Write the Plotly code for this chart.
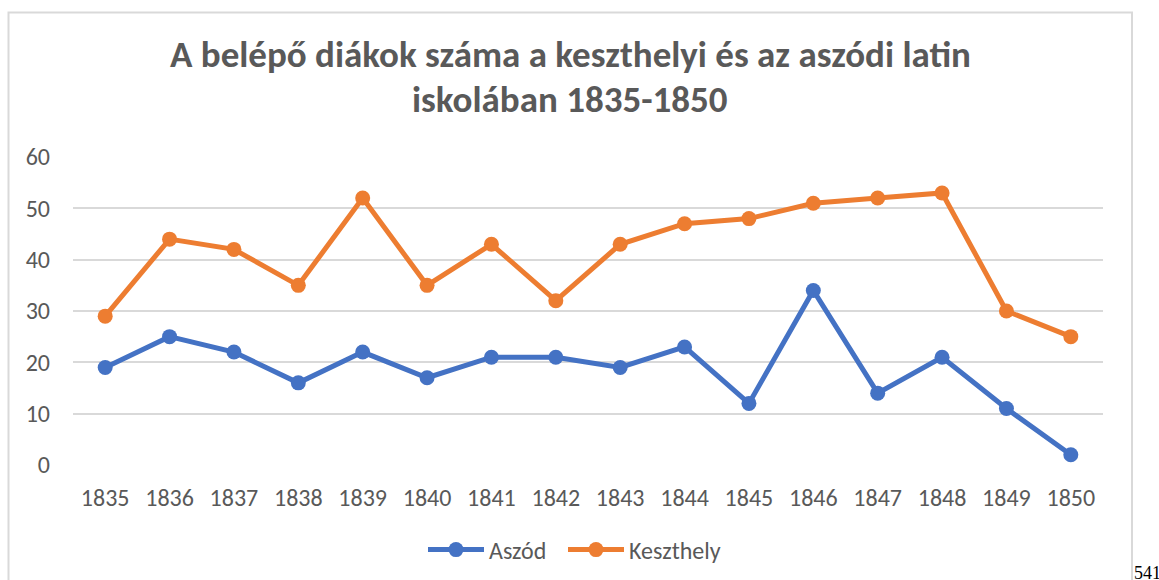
import plotly.graph_objects as go

years = ["1835", "1836", "1837", "1838", "1839", "1840", "1841", "1842",
         "1843", "1844", "1845", "1846", "1847", "1848", "1849", "1850"]
aszod = [19, 25, 22, 16, 22, 17, 21, 21, 19, 23, 12, 34, 14, 21, 11, 2]
keszthely = [29, 44, 42, 35, 52, 35, 43, 32, 43, 47, 48, 51, 52, 53, 30, 25]
y_ticks = [0, 10, 20, 30, 40, 50, 60]

title_line1 = "A belépő diákok száma a keszthelyi és az aszódi latin"
title_line2 = "iskolában 1835-1850"

W, H = 1159, 580
L, R, T, B = 73, 1103, 157, 465
FONT = "Carlito, Calibri, Lato, sans-serif"

def px(x):
    return (x - L) / (R - L)

def py(y):
    return (B - y) / (B - T)

fig = go.Figure()
fig.add_trace(go.Scatter(x=years, y=aszod, name="Aszód", mode="lines+markers",
                         line=dict(color="#4472C4", width=5),
                         marker=dict(size=15, color="#4472C4"),
                         legendwidth=69))
fig.add_trace(go.Scatter(x=years, y=keszthely, name="Keszthely", mode="lines+markers",
                         line=dict(color="#ED7D31", width=5),
                         marker=dict(size=15, color="#ED7D31")))

fig.update_layout(
    width=W, height=H,
    margin=dict(l=L, r=W - R, t=T, b=H - B, autoexpand=False),
    paper_bgcolor="white", plot_bgcolor="white",
    font=dict(family=FONT, color="#595959"),
    showlegend=True,
    legend=dict(orientation="h", x=px(423), xanchor="left", y=py(550), yanchor="middle",
                font=dict(size=24, color="#595959", family=FONT), itemwidth=56,
                traceorder="normal"),
    xaxis=dict(type="category", showgrid=False, zeroline=False, showline=False,
               ticks="", tickfont=dict(size=24, color="#595959"),
               ticklabelstandoff=16, range=[-0.5, 15.5]),
    yaxis=dict(range=[0, 60], tickvals=y_ticks, showgrid=True, gridcolor="#d9d9d9",
               gridwidth=1.5, zeroline=False, showline=False, ticks="",
               tickfont=dict(size=24, color="#595959"), ticklabelstandoff=22),
)

for txt, yc in [(title_line1, 55), (title_line2, 99)]:
    fig.add_annotation(text=f"<b>{txt}</b>", xref="paper", yref="paper",
                       x=px(570), y=py(yc), xanchor="center", yanchor="middle",
                       showarrow=False,
                       font=dict(size=37, color="#595959", family=FONT))

fig.add_shape(type="rect", xref="paper", yref="paper",
              x0=px(8.5), x1=px(1132), y0=py(620), y1=py(12.5),
              line=dict(color="#d9d9d9", width=2), fillcolor="rgba(0,0,0,0)", layer="below")

fig.add_annotation(text="541", xref="paper", yref="paper", x=px(1132), y=py(573),
                   xanchor="left", yanchor="middle", showarrow=False,
                   font=dict(family="Liberation Serif, Times New Roman, serif", size=18, color="black"))

fig.write_html("out.html", config={"displayModeBar": False},
               post_script="document.body.style.margin='0';document.body.style.overflow='hidden';")
